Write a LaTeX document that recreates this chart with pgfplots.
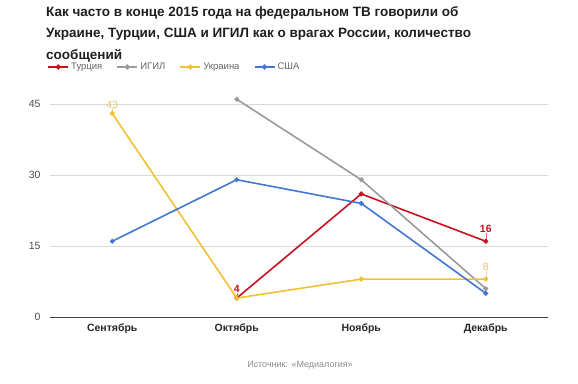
\documentclass[border=0pt]{standalone}
\usepackage{fontspec}
\setmainfont{Liberation Sans}
\usepackage{pgfplots}
\pgfplotsset{compat=1.18}
\definecolor{cRed}{HTML}{C8101E}
\definecolor{cGray}{HTML}{9A9A9A}
\definecolor{cYel}{HTML}{F0C232}
\definecolor{cBlue}{HTML}{4477D0}
\definecolor{cYelLbl}{HTML}{E9C36E}
\begin{document}
\begin{tikzpicture}[x=1pt,y=1pt]
\path[use as bounding box] (0,0) rectangle (578,383);
\node[anchor=north west, align=left, inner sep=0pt, font=\bfseries\fontsize{13.5}{21.5}\selectfont, text=black!88] at (46,377)
{Как часто в конце 2015 года на федеральном ТВ говорили об\\Украине, Турции, США и ИГИЛ как о врагах России, количество\\сообщений};
\begin{axis}[
  at={(50pt,66pt)}, anchor=south west,
  width=498pt, height=227.2pt, scale only axis,
  xmin=-0.5, xmax=3.5, ymin=0, ymax=48,
  axis line style={draw=none},
  xtick={0,1,2,3},
  xticklabels={Сентябрь,Октябрь,Ноябрь,Декабрь},
  ytick={0,15,30,45},
  ymajorgrids, grid style={draw=black!15, line width=0.8pt},
  major tick length=0pt,
  /pgf/number format/assume math mode=true,
  yticklabel style={font=\fontsize{10.5}{12}\selectfont, text=black!70, xshift=-6pt},
  xticklabel style={font=\bfseries\fontsize{10.5}{12}\selectfont, text=black!85, yshift=-3pt},
  clip=false,
  legend columns=4,
  legend style={at={(axis description cs:-0.012,1)}, anchor=south west, yshift=14.5pt, draw=none, fill=none,
    font=\fontsize{9.5}{11}\selectfont, text=black!60,
    /tikz/every even column/.append style={column sep=12pt}},
  legend image code/.code={\draw[#1, line width=2pt, mark=none] (0pt,0pt) -- (20pt,0pt); \fill[#1] (10pt,0pt) circle (1.8pt);},
  every axis plot/.append style={line width=1.6pt, mark=*, mark size=1.6pt},
]
\draw[black!75, line width=0.8pt] (axis cs:-0.5,0) -- (axis cs:3.5,0);
\addplot[cRed, mark options={fill=cRed}] coordinates {(1,4) (2,26) (3,16)};
\addlegendentry{Турция}
\addplot[cGray, mark options={fill=cGray}] coordinates {(1,46) (2,29) (3,6)};
\addlegendentry{ИГИЛ}
\addplot[cYel, mark options={fill=cYel}] coordinates {(0,43) (1,4) (2,8) (3,8)};
\addlegendentry{Украина}
\addplot[cBlue, mark options={fill=cBlue}] coordinates {(0,16) (1,29) (2,24) (3,5)};
\addlegendentry{США}
\draw[cYelLbl!70, line width=0.5pt] (axis cs:0,43) -- ([yshift=5pt]axis cs:0,43);
\node[text=cYelLbl, font=\fontsize{10.5}{12}\selectfont, anchor=south, inner sep=1pt] at ([yshift=4pt]axis cs:0,43) {43};
\draw[cRed!60, line width=0.5pt] (axis cs:1,4) -- ([yshift=5pt]axis cs:1,4);
\node[text=cRed, font=\bfseries\fontsize{10.5}{12}\selectfont, anchor=south, inner sep=1pt] at ([yshift=4pt]axis cs:1,4) {4};
\draw[cRed!60, line width=0.5pt] (axis cs:3,16) -- ([yshift=8pt]axis cs:3,16);
\node[text=cRed, font=\bfseries\fontsize{10.5}{12}\selectfont, anchor=south, inner sep=1pt] at ([yshift=7pt]axis cs:3,16) {16};
\draw[cYelLbl!70, line width=0.5pt] (axis cs:3,8) -- ([yshift=8pt]axis cs:3,8);
\node[text=cYelLbl, font=\fontsize{10.5}{12}\selectfont, anchor=south, inner sep=1pt] at ([yshift=7pt]axis cs:3,8) {8};
\end{axis}
\node[text=black!45, font=\fontsize{9}{11}\selectfont] at (300,18) {Источник: «Медиалогия»};
\end{tikzpicture}
\end{document}
